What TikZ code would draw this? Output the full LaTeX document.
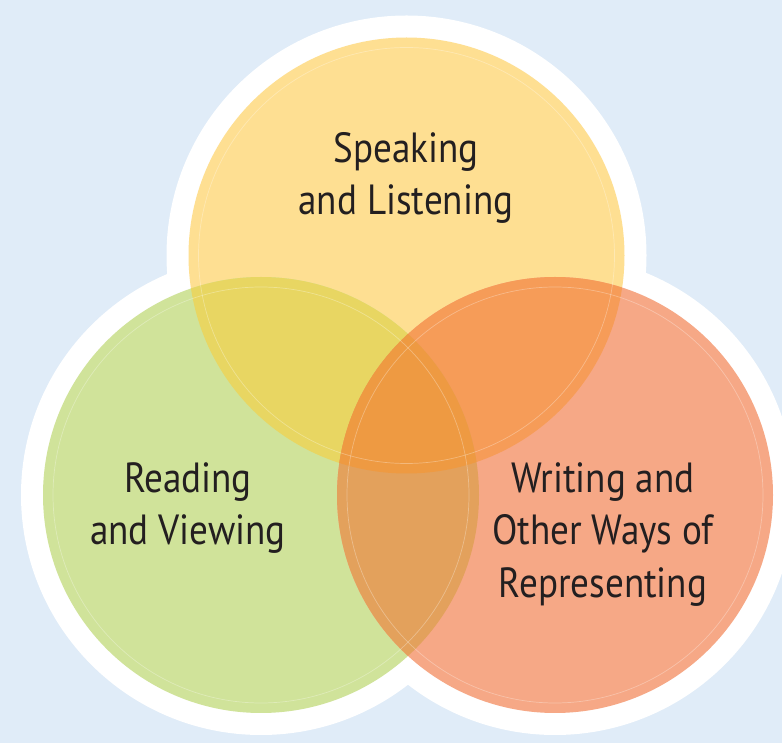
\documentclass[tikz,border=0pt]{standalone}
\usepackage{fontspec}
\setmainfont{PT Sans}[FakeStretch=0.88]
\usepackage{xcolor}
\usetikzlibrary{positioning,calc}

\definecolor{bgblue}{HTML}{E0ECF8}
\definecolor{speakcol}{HTML}{FEDF92}
\definecolor{readcol}{HTML}{D0E39A}
\definecolor{writecol}{HTML}{F6A886}
\definecolor{speakread}{HTML}{E8D662}
\definecolor{speakwrite}{HTML}{F69C58}
\definecolor{readwrite}{HTML}{E3A15C}
\definecolor{allthree}{HTML}{EE9A42}
\definecolor{labeltext}{HTML}{231F20}

\tikzset{
	strand/.style={align=center,text=labeltext,font=\fontsize{24}{30}\selectfont},
	innerring/.style={draw=white,line width=0.4pt,opacity=0.3}
}

\begin{document}
\begin{tikzpicture}
	\def\rad{4.36}
	\useasboundingbox (0,0) rectangle (15.64,14.86);
	\fill[bgblue] (0,0) rectangle (15.64,14.86);
	
	% circle centres
	\coordinate (S) at (8.13,9.75);
	\coordinate (R) at (5.22,4.96);
	\coordinate (W) at (11.10,4.96);
	
	% white rim around the whole group
	\foreach \c in {S,R,W}
		\fill[white] (\c) circle (\rad+0.44);
	
	% the three circles
	\fill[speakcol] (S) circle (\rad);
	\fill[readcol] (R) circle (\rad);
	\fill[writecol] (W) circle (\rad);
	
	% pairwise overlaps
	\begin{scope}
		\clip (S) circle (\rad);
		\fill[speakread] (R) circle (\rad);
		\fill[speakwrite] (W) circle (\rad);
	\end{scope}
	\begin{scope}
		\clip (R) circle (\rad);
		\fill[readwrite] (W) circle (\rad);
		\clip (W) circle (\rad);
		\fill[allthree] (S) circle (\rad);
	\end{scope}
	
	% faint inner rings
	\foreach \c in {S,R,W}
		\draw[innerring] (\c) circle (\rad-0.2);
	
	\node[strand] (speak) at (8.12,11.30) {Speaking\\and Listening};
	\node[strand] (read) at (3.76,4.70) {Reading\\and Viewing};
	\node[strand] (write) at (12.06,4.17) {Writing and\\Other Ways of\\Representing};
\end{tikzpicture}
\end{document}
